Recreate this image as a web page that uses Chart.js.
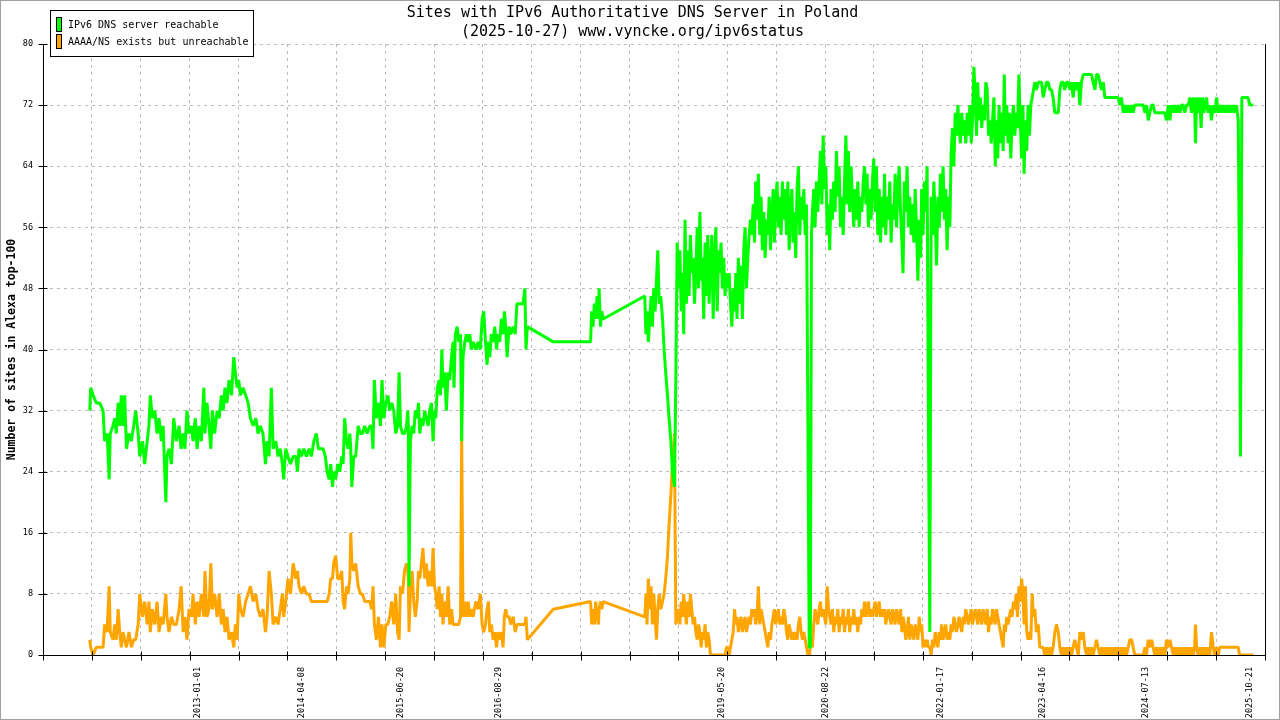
<!DOCTYPE html>
<html>
<head>
<meta charset="utf-8">
<title>Sites with IPv6 Authoritative DNS Server in Poland</title>
<script src="https://cdn.jsdelivr.net/npm/chart.js@4.4.1/dist/chart.umd.min.js"></script>
<style>
  html, body { margin: 0; padding: 0; background: #fff; }
  #wrap { width: 1280px; height: 720px; position: relative; }
</style>
</head>
<body>
<div id="wrap"><canvas id="myChart"></canvas></div>
<script>
// measurement days, counted from 2013-01-01
var days = [
  -481,-477,-466,-452,-437,-422,-415,-404,-395,-390,
  -378,-370,-363,-355,-348,-341,-333,-326,-318,-307,
  -296,-286,-277,-266,-259,-247,-237,-226,-218,-212,
  -203,-192,-182,-173,-163,-155,-143,-138,-129,-118,
  -108,-96,-84,-75,-66,-58,-49,-40,-29,-22,
  -12,-4,5,15,26,31,40,49,57,64,
  74,85,94,104,112,120,129,138,149,159,
  166,174,181,189,200,212,223,233,245,257,
  267,277,289,300,307,316,326,334,346,356,
  366,375,381,390,400,411,423,435,442,449,
  460,470,482,494,504,515,526,535,544,556,
  566,574,583,590,598,603,612,621,630,639,
  645,652,660,667,675,679,684,692,701,712,
  722,731,741,752,764,772,778,784,793,802,
  811,818,826,835,844,852,861,870,879,887,
  894,900,909,918,927,932,935,938,944,952,
  959,966,974,980,986,993,1000,1008,1015,1023,
  1030,1038,1045,1051,1057,1064,1072,1078,1084,1089,
  1097,1104,1112,1119,1127,1134,1138,1144,1152,1159,
  1167,1172,1178,1186,1193,1201,1208,1215,1223,1235,
  1245,1255,1263,1270,1278,1285,1291,1297,1304,1312,
  1319,1327,1334,1341,1349,1356,1362,1368,1374,1383,
  1390,1401,1410,1418,1430,1439,1445,1453,1458,1464,
  1579,1745,1750,1756,1762,1768,1774,1780,1783,1789,
  1795,1801,1986,1991,1996,2002,2008,2014,2020,2026,
  2032,2038,2044,2050,2057,2065,2072,2079,2087,2094,
  2102,2109,2118,2124,2130,2136,2142,2148,2154,2159,
  2165,2171,2177,2183,2189,2195,2201,2207,2213,2219,
  2225,2231,2237,2242,2248,2254,2260,2266,2272,2278,
  2284,2290,2296,2302,2308,2314,2320,2325,2331,2337,
  2343,2349,2355,2361,2367,2373,2379,2385,2391,2396,
  2402,2408,2414,2420,2426,2432,2438,2444,2450,2456,
  2462,2468,2474,2479,2485,2491,2497,2503,2509,2515,
  2521,2527,2533,2539,2545,2551,2557,2562,2568,2574,
  2580,2586,2592,2598,2604,2610,2616,2622,2628,2634,
  2640,2645,2651,2657,2663,2669,2675,2681,2687,2693,
  2699,2705,2711,2717,2722,2727,2731,2737,2743,2749,
  2755,2761,2767,2773,2779,2785,2791,2797,2803,2808,
  2814,2820,2826,2832,2838,2844,2850,2856,2862,2868,
  2874,2880,2886,2891,2897,2903,2909,2915,2921,2927,
  2933,2939,2945,2951,2957,2963,2969,2974,2980,2986,
  2992,2998,3004,3010,3016,3022,3028,3034,3040,3046,
  3052,3057,3063,3069,3075,3081,3087,3093,3099,3105,
  3111,3117,3123,3129,3134,3140,3146,3152,3158,3164,
  3170,3176,3182,3188,3194,3200,3206,3212,3217,3223,
  3229,3235,3241,3247,3253,3259,3265,3271,3277,3283,
  3289,3295,3300,3306,3312,3318,3324,3330,3336,3342,
  3348,3354,3360,3366,3372,3378,3383,3389,3395,3401,
  3407,3413,3419,3425,3431,3437,3443,3449,3455,3461,
  3466,3472,3478,3484,3490,3496,3502,3508,3514,3520,
  3526,3532,3538,3544,3549,3555,3561,3567,3573,3579,
  3584,3589,3595,3601,3607,3613,3619,3625,3631,3637,
  3643,3649,3655,3661,3667,3672,3678,3684,3690,3696,
  3702,3708,3714,3720,3727,3735,3742,3750,3757,3764,
  3772,3779,3787,3794,3801,3809,3816,3824,3831,3838,
  3846,3853,3861,3868,3876,3883,3890,3898,3905,3913,
  3920,3927,3935,3942,3950,3957,3964,3972,3979,3987,
  3994,4001,4009,4016,4024,4031,4038,4046,4053,4061,
  4068,4076,4083,4090,4098,4105,4113,4120,4127,4135,
  4142,4150,4157,4164,4172,4187,4202,4209,4216,4224,
  4231,4239,4246,4253,4261,4268,4276,4283,4290,4298,
  4305,4313,4320,4328,4335,4342,4350,4357,4365,4372,
  4379,4387,4394,4402,4409,4416,4424,4430,4434,4439,
  4446,4453,4459,4465,4471,4477,4483,4490,4498,4505,
  4513,4520,4528,4535,4542,4550,4557,4565,4572,4579,
  4587,4594,4602,4609,4616,4624,4630,4634,4640,4649,
  4658,4667,4676,4685,4691
];

// sites whose IPv6 DNS server answers
var reachable = [
  32,35,34,33,33,32,28,29,23,29,
  30,31,29,33,30,34,30,34,27,29,
  28,30,32,29,26,28,25,28,30,34,
  31,32,29,31,28,30,20,26,27,25,
  31,28,30,27,29,27,32,29,30,28,
  31,27,30,28,35,29,33,30,27,32,
  29,32,31,34,32,35,33,36,34,39,
  37,35,36,34,35,34,33,31,30,31,
  29,30,29,25,28,26,35,27,28,26,
  27,25,23,27,26,25,26,26,24,27,
  26,27,26,27,26,28,29,27,27,27,
  26,24,23,25,22,24,23,25,24,26,
  25,31,28,27,29,27,22,26,26,30,
  29,29,30,29,30,30,27,36,31,33,
  30,36,31,33,34,32,33,32,29,30,
  37,30,29,29,30,32,30,9,28,30,
  29,32,31,33,29,31,30,32,31,30,
  32,33,28,32,31,35,36,34,40,35,
  37,32,37,36,39,41,35,42,43,41,
  42,28,39,41,42,41,42,40,41,40,
  41,40,44,45,41,38,41,39,42,41,
  43,40,42,41,44,42,45,43,39,43,
  42,43,42,46,46,46,46,48,40,43,
  41,41,45,43,46,44,47,44,48,43,
  45,44,47,42,45,41,44,47,43,48,
  45,49,53,46,47,44,40,37,34,31,
  28,24,22,36,54,48,53,45,50,42,
  57,46,53,47,55,50,52,46,50,56,
  48,58,49,52,44,54,47,55,46,51,
  55,44,52,56,45,53,50,54,48,52,
  47,50,48,50,46,43,48,45,50,44,
  52,46,51,44,53,56,48,52,55,57,
  55,59,54,62,57,63,55,60,53,58,
  52,57,55,60,53,58,61,54,59,62,
  56,60,55,62,57,61,55,62,53,59,
  61,54,58,52,61,64,55,60,57,61,
  55,59,31,1,1,55,58,61,56,62,
  58,62,66,59,68,61,64,55,59,53,
  61,57,62,58,66,60,64,56,60,55,
  62,68,59,66,58,64,60,56,61,57,
  62,56,60,58,62,64,59,63,56,61,
  57,62,65,58,64,55,61,54,60,56,
  63,55,60,57,62,54,59,57,63,56,
  61,64,58,54,50,62,58,64,56,60,
  55,59,54,61,56,49,57,52,61,55,
  62,58,64,30,3,60,55,62,57,51,
  60,56,63,58,64,57,61,53,60,56,
  66,69,64,71,68,72,69,67,71,68,
  70,67,71,68,72,67,70,77,73,68,
  75,70,73,69,72,70,75,74,68,70,
  67,70,73,64,70,65,72,67,71,66,
  76,68,72,67,71,65,70,72,68,71,
  69,76,70,65,72,63,70,66,72,68,
  72,73,74,75,74,75,75,75,73,74,
  75,75,74,74,73,71,71,71,74,75,
  75,74,75,75,74,75,73,75,74,75,
  72,75,76,76,76,76,76,76,75,74,
  76,76,75,74,75,73,73,73,73,73,
  73,73,73,73,72,73,71,72,71,72,
  71,72,71,72,72,72,72,71,72,70,
  71,72,72,71,71,71,71,71,71,71,
  70,72,70,72,71,72,71,72,71,72,
  72,71,72,72,73,71,73,72,67,73,
  71,73,69,73,71,72,73,71,72,70,
  72,71,73,71,72,71,72,71,72,71,
  72,71,72,71,72,70,48,26,73,73,
  73,73,72,72,72
];

// sites with AAAA/NS records but no answer
var unreachable = [
  2,1,0,1,1,1,4,3,9,3,
  2,4,2,6,3,1,3,2,1,3,
  1,2,2,4,8,5,7,4,7,3,
  6,4,7,3,5,4,8,5,3,5,
  4,4,6,9,3,5,2,6,5,8,
  4,7,5,8,5,11,5,6,12,6,
  8,5,8,4,6,3,5,2,3,1,
  4,2,8,6,5,7,8,9,7,8,
  6,5,6,3,5,11,8,4,5,4,
  6,8,5,7,10,8,12,10,11,9,
  8,9,8,8,7,7,7,7,7,7,
  7,7,8,10,10,12,13,10,10,11,
  7,6,9,8,10,16,12,11,12,9,
  8,8,7,7,7,6,9,4,2,5,
  1,4,1,4,4,5,7,4,8,3,
  2,9,8,11,12,11,10,3,8,11,
  7,5,7,11,10,12,14,10,12,9,
  11,9,14,9,8,6,9,5,8,4,
  7,5,9,4,6,4,4,4,4,4,
  5,29,5,7,5,7,5,6,5,7,
  6,8,4,3,4,6,7,3,4,2,
  3,1,3,2,3,1,5,6,5,5,
  4,5,3,4,4,4,4,4,5,2,
  6,7,4,6,4,7,5,4,6,7,
  6,7,5,8,4,10,6,9,4,8,
  5,2,6,8,6,7,8,10,13,17,
  21,25,29,4,5,6,4,7,5,8,
  6,4,7,5,8,6,4,5,3,2,
  4,3,1,3,2,4,1,3,2,0,
  0,0,0,0,0,0,0,0,0,0,
  0,1,1,0,1,2,3,6,4,5,
  3,4,5,3,4,5,3,4,5,4,
  6,5,6,4,5,9,4,6,5,4,
  3,2,1,3,2,4,5,6,4,5,
  6,4,5,4,6,5,3,2,4,3,
  2,3,2,3,2,4,5,3,2,3,
  2,1,0,0,1,2,1,4,6,5,
  4,6,7,5,6,5,4,9,6,5,
  4,6,3,5,4,6,3,5,4,6,
  3,5,4,6,3,5,4,6,4,5,
  3,5,4,6,5,7,5,6,7,5,
  6,5,6,7,5,6,7,5,6,5,
  6,4,5,6,5,4,6,5,4,6,
  5,4,6,3,5,4,2,3,5,2,
  4,3,2,4,3,2,5,3,4,1,
  2,1,2,1,1,0,2,1,3,2,
  1,3,2,4,2,3,4,2,3,2,
  4,3,5,4,3,4,5,4,3,5,
  4,6,5,4,5,6,4,5,6,5,
  4,6,5,4,6,5,4,6,3,5,
  4,6,5,4,6,5,4,3,2,1,
  4,3,5,4,5,6,5,7,6,8,
  5,9,7,10,8,4,9,3,2,3,
  2,8,5,6,3,4,1,1,1,0,
  1,0,1,0,1,3,4,3,1,0,
  1,0,1,0,1,0,1,2,1,0,
  3,2,3,1,0,1,0,1,0,1,
  2,1,0,1,0,1,0,1,0,1,
  0,1,0,1,0,1,0,1,0,1,
  2,2,1,0,0,0,0,1,0,2,
  1,2,1,0,1,0,1,0,1,0,
  2,1,2,1,0,1,0,1,0,1,
  0,1,0,1,0,1,0,1,4,1,
  0,1,0,1,0,1,0,1,0,3,
  1,0,1,0,1,1,1,1,1,1,
  1,1,1,1,1,1,0,0,0,0,
  0,0,0,0,0
];

var tickDates = ['2013-01-01', '2014-04-08', '2015-06-20', '2016-08-29', '2019-05-20',
                 '2020-08-22', '2022-01-17', '2023-04-16', '2024-07-13', '2025-10-21'];
var axisFrom = '2011-02-12';
var axisTo = '2025-12-27';
var gridCount = 25;

var mono = '"DejaVu Sans Mono", "Liberation Mono", monospace';

function dayOf(s) {
  var p = s.split('-').map(Number);
  return (Date.UTC(p[0], p[1] - 1, p[2]) - Date.UTC(2013, 0, 1)) / 86400000;
}

var xMin = dayOf(axisFrom), xMax = dayOf(axisTo);
var gridStep = (xMax - xMin) / gridCount;
var gridDays = [];
for (var k = 0; k <= gridCount; k++) gridDays.push(xMin + k * gridStep);

var labelAt = new Map();
tickDates.forEach(function (t) { labelAt.set(dayOf(t), t); });

function points(vals) {
  return days.map(function (d, i) { return { x: d, y: vals[i] }; });
}

// axis lines, inside+outside tick marks, legend box, outer frame
var framePlugin = {
  id: 'frame',
  afterDraw: function (chart) {
    var c = chart.ctx, a = chart.chartArea;
    var xs = chart.scales.x, ys = chart.scales.y;
    c.save();
    c.setLineDash([]);
    c.lineWidth = 1;
    c.strokeStyle = '#000';
    var L = Math.round(a.left) + 0.5, R = Math.round(a.right) + 0.5;
    var T = Math.round(a.top), B = Math.round(a.bottom) + 0.5;
    c.beginPath();
    c.moveTo(L, T); c.lineTo(L, B); c.lineTo(R, B); c.lineTo(R, T);
    for (var v = 0; v <= 80; v += 8) {
      var py = Math.round(ys.getPixelForValue(v)) + 0.5;
      c.moveTo(L - 5, py); c.lineTo(L + 4, py);
    }
    gridDays.forEach(function (d) {
      var px = Math.round(xs.getPixelForValue(d)) + 0.5;
      c.moveTo(px, B - 4); c.lineTo(px, B + 5);
    });
    c.stroke();

    // legend
    c.fillStyle = '#fff';
    c.fillRect(50, 10, 204, 47);
    c.strokeRect(50.5, 10.5, 203, 46);
    c.font = '10px ' + mono;
    c.textBaseline = 'middle';
    c.textAlign = 'left';
    chart.data.datasets.forEach(function (ds, i) {
      var y = 17 + i * 17;
      c.fillStyle = ds.borderColor;
      c.fillRect(56, y, 6, 15);
      c.strokeRect(56.5, y + 0.5, 5, 14);
      c.fillStyle = '#000';
      c.fillText(ds.label, 68, y + 8.5);
    });

    c.strokeStyle = '#a0a0a0';
    c.strokeRect(0.5, 0.5, chart.width - 1, chart.height - 1);
    c.restore();
  }
};

var ctx = document.getElementById('myChart');

var myChart = new Chart(ctx, {
  type: 'line',
  data: {
    datasets: [{
      label: 'IPv6 DNS server reachable',
      data: points(reachable),
      borderColor: '#00ff00',
      backgroundColor: '#00ff00',
      borderWidth: 3,
      pointRadius: 0,
      tension: 0,
      borderJoinStyle: 'bevel',
      fill: false
    }, {
      label: 'AAAA/NS exists but unreachable',
      data: points(unreachable),
      borderColor: '#ffa500',
      backgroundColor: '#ffa500',
      borderWidth: 3,
      pointRadius: 0,
      tension: 0,
      borderJoinStyle: 'bevel',
      fill: false
    }]
  },
  options: {
    responsive: true,
    maintainAspectRatio: false,
    animation: false,
    devicePixelRatio: 1,
    layout: { padding: { left: 0, right: 15, top: 0, bottom: 0 } },
    plugins: {
      legend: { display: false },
      tooltip: { enabled: false },
      title: {
        display: true,
        text: ['Sites with IPv6 Authoritative DNS Server in Poland',
               '(2025-10-27) www.vyncke.org/ipv6status'],
        color: '#000',
        font: { family: mono, size: 15, weight: 'normal', lineHeight: 19 / 15 },
        padding: { top: 4, bottom: 2 }
      }
    },
    scales: {
      x: {
        type: 'linear',
        min: xMin,
        max: xMax,
        afterBuildTicks: function (axis) {
          var all = gridDays.concat(Array.from(labelAt.keys()));
          all.sort(function (a, b) { return a - b; });
          axis.ticks = all.map(function (v) { return { value: v }; });
        },
        afterFit: function (axis) {
          axis.height = 65;
          axis.paddingLeft = 0;
          axis.paddingRight = 0;
        },
        ticks: {
          autoSkip: false,
          minRotation: 90,
          maxRotation: 90,
          padding: 12,
          color: '#000',
          font: { family: mono, size: 8.5 },
          callback: function (v) { return labelAt.get(v) || ''; }
        },
        grid: {
          drawTicks: false,
          lineWidth: 1,
          color: function (c) {
            return c.tick && c.tick.label ? 'rgba(0,0,0,0)' : '#bbbbbb';
          }
        },
        border: { display: false, dash: [3, 4] }
      },
      y: {
        min: 0,
        max: 80,
        afterFit: function (axis) { axis.width = 43; },
        ticks: {
          stepSize: 8,
          padding: 10,
          color: '#000',
          font: { family: mono, size: 8.5 }
        },
        grid: { drawTicks: false, color: '#bbbbbb', lineWidth: 1 },
        border: { display: false, dash: [3, 4] },
        title: {
          display: true,
          text: 'Number of sites in Alexa top-100',
          color: '#000',
          font: { family: mono, size: 11.5, weight: 'bold' },
          padding: { top: 5, bottom: 0 }
        }
      }
    }
  },
  plugins: [framePlugin]
});
</script>
</body>
</html>
